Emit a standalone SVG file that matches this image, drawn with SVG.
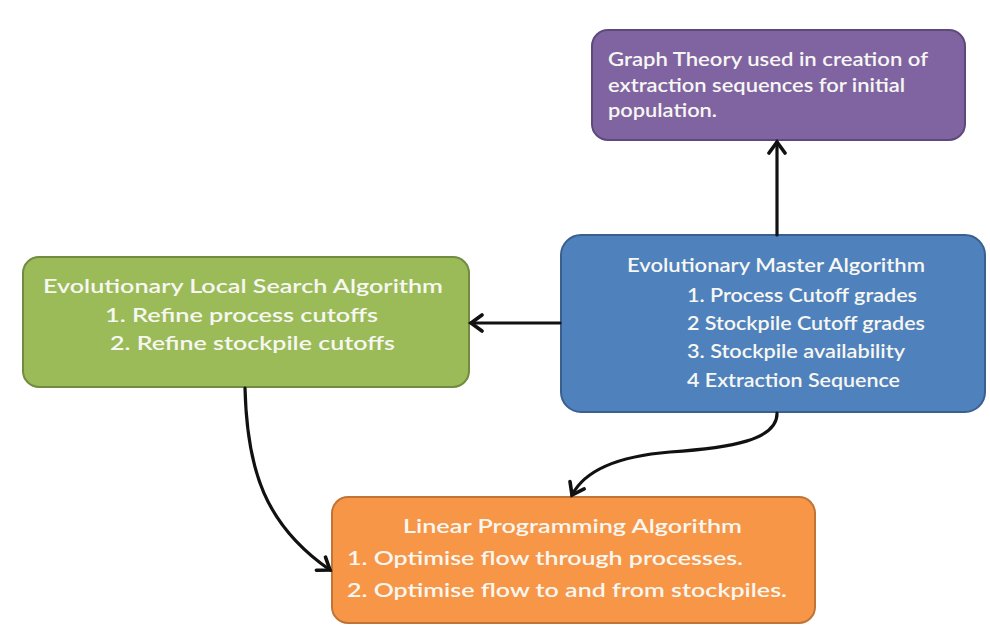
<svg xmlns="http://www.w3.org/2000/svg" width="990" height="638" viewBox="0 0 990 638">
<style>
.box{stroke-width:2}
.t{font-family:Lato,"Liberation Sans",sans-serif;font-weight:600;fill:#F7F7F2}
.c{fill:none;stroke:#111;stroke-width:3.2;stroke-linecap:round}
</style>
<defs>
<marker id="ah" markerUnits="userSpaceOnUse" markerWidth="20" markerHeight="20" refX="14" refY="10" orient="auto">
<path d="M3,2 L14,10 L3,18" fill="none" stroke="#111" stroke-width="3.6" stroke-linecap="round" stroke-linejoin="miter"/>
</marker>
</defs>
<rect width="990" height="638" fill="#FFFFFF"/>
<g id="purple">
<rect class="box" x="592" y="30" width="373" height="110" rx="16" fill="#8064A2" stroke="#5E4A7A"/>
<text class="t" font-size="19"><tspan x="608" y="66" textLength="320" lengthAdjust="spacingAndGlyphs">Graph Theory used in creation of</tspan><tspan x="608" y="92" textLength="297" lengthAdjust="spacingAndGlyphs">extraction sequences for initial</tspan><tspan x="608" y="117" textLength="109" lengthAdjust="spacingAndGlyphs">population.</tspan></text>
</g>
<g id="green">
<rect class="box" x="23" y="257" width="446" height="130" rx="16" fill="#9BBB59" stroke="#728B40"/>
<text class="t" font-size="19"><tspan x="43" y="293" textLength="400" lengthAdjust="spacingAndGlyphs">Evolutionary Local Search Algorithm</tspan><tspan x="105" y="322" textLength="273" lengthAdjust="spacingAndGlyphs">1. Refine process cutoffs</tspan><tspan x="110" y="350" textLength="285" lengthAdjust="spacingAndGlyphs">2. Refine stockpile cutoffs</tspan></text>
</g>
<g id="blue">
<rect class="box" x="561" y="235" width="424" height="177" rx="20" fill="#4F81BD" stroke="#3A6090"/>
<text class="t" font-size="19"><tspan x="627" y="272" textLength="298" lengthAdjust="spacingAndGlyphs">Evolutionary  Master Algorithm</tspan><tspan x="687" y="302" textLength="230" lengthAdjust="spacingAndGlyphs">1. Process Cutoff grades</tspan><tspan x="687" y="330" textLength="238" lengthAdjust="spacingAndGlyphs">2 Stockpile Cutoff grades</tspan><tspan x="687" y="358" textLength="218" lengthAdjust="spacingAndGlyphs">3. Stockpile availability</tspan><tspan x="687" y="387" textLength="213" lengthAdjust="spacingAndGlyphs">4 Extraction Sequence</tspan></text>
</g>
<g id="orange">
<rect class="box" x="332" y="497" width="483" height="126" rx="16" fill="#F79646" stroke="#C07436"/>
<text class="t" font-size="20"><tspan x="403" y="533" textLength="339" lengthAdjust="spacingAndGlyphs">Linear Programming Algorithm</tspan><tspan x="347" y="565" textLength="396" lengthAdjust="spacingAndGlyphs">1. Optimise flow through processes.</tspan><tspan x="347" y="597" textLength="440" lengthAdjust="spacingAndGlyphs">2. Optimise flow to and from stockpiles.</tspan></text>
</g>
<g id="connectors">
<path class="c" d="M777,235 L777,142" marker-end="url(#ah)"/>
<path class="c" d="M560,323 L471,323" marker-end="url(#ah)"/>
<path class="c" d="M245,388 C247,470 265,525 330,570" marker-end="url(#ah)"/>
<path class="c" d="M777,413 C778,440 730,448 670,452 C620,456 585,470 572,495" marker-end="url(#ah)"/>
</g>
</svg>
